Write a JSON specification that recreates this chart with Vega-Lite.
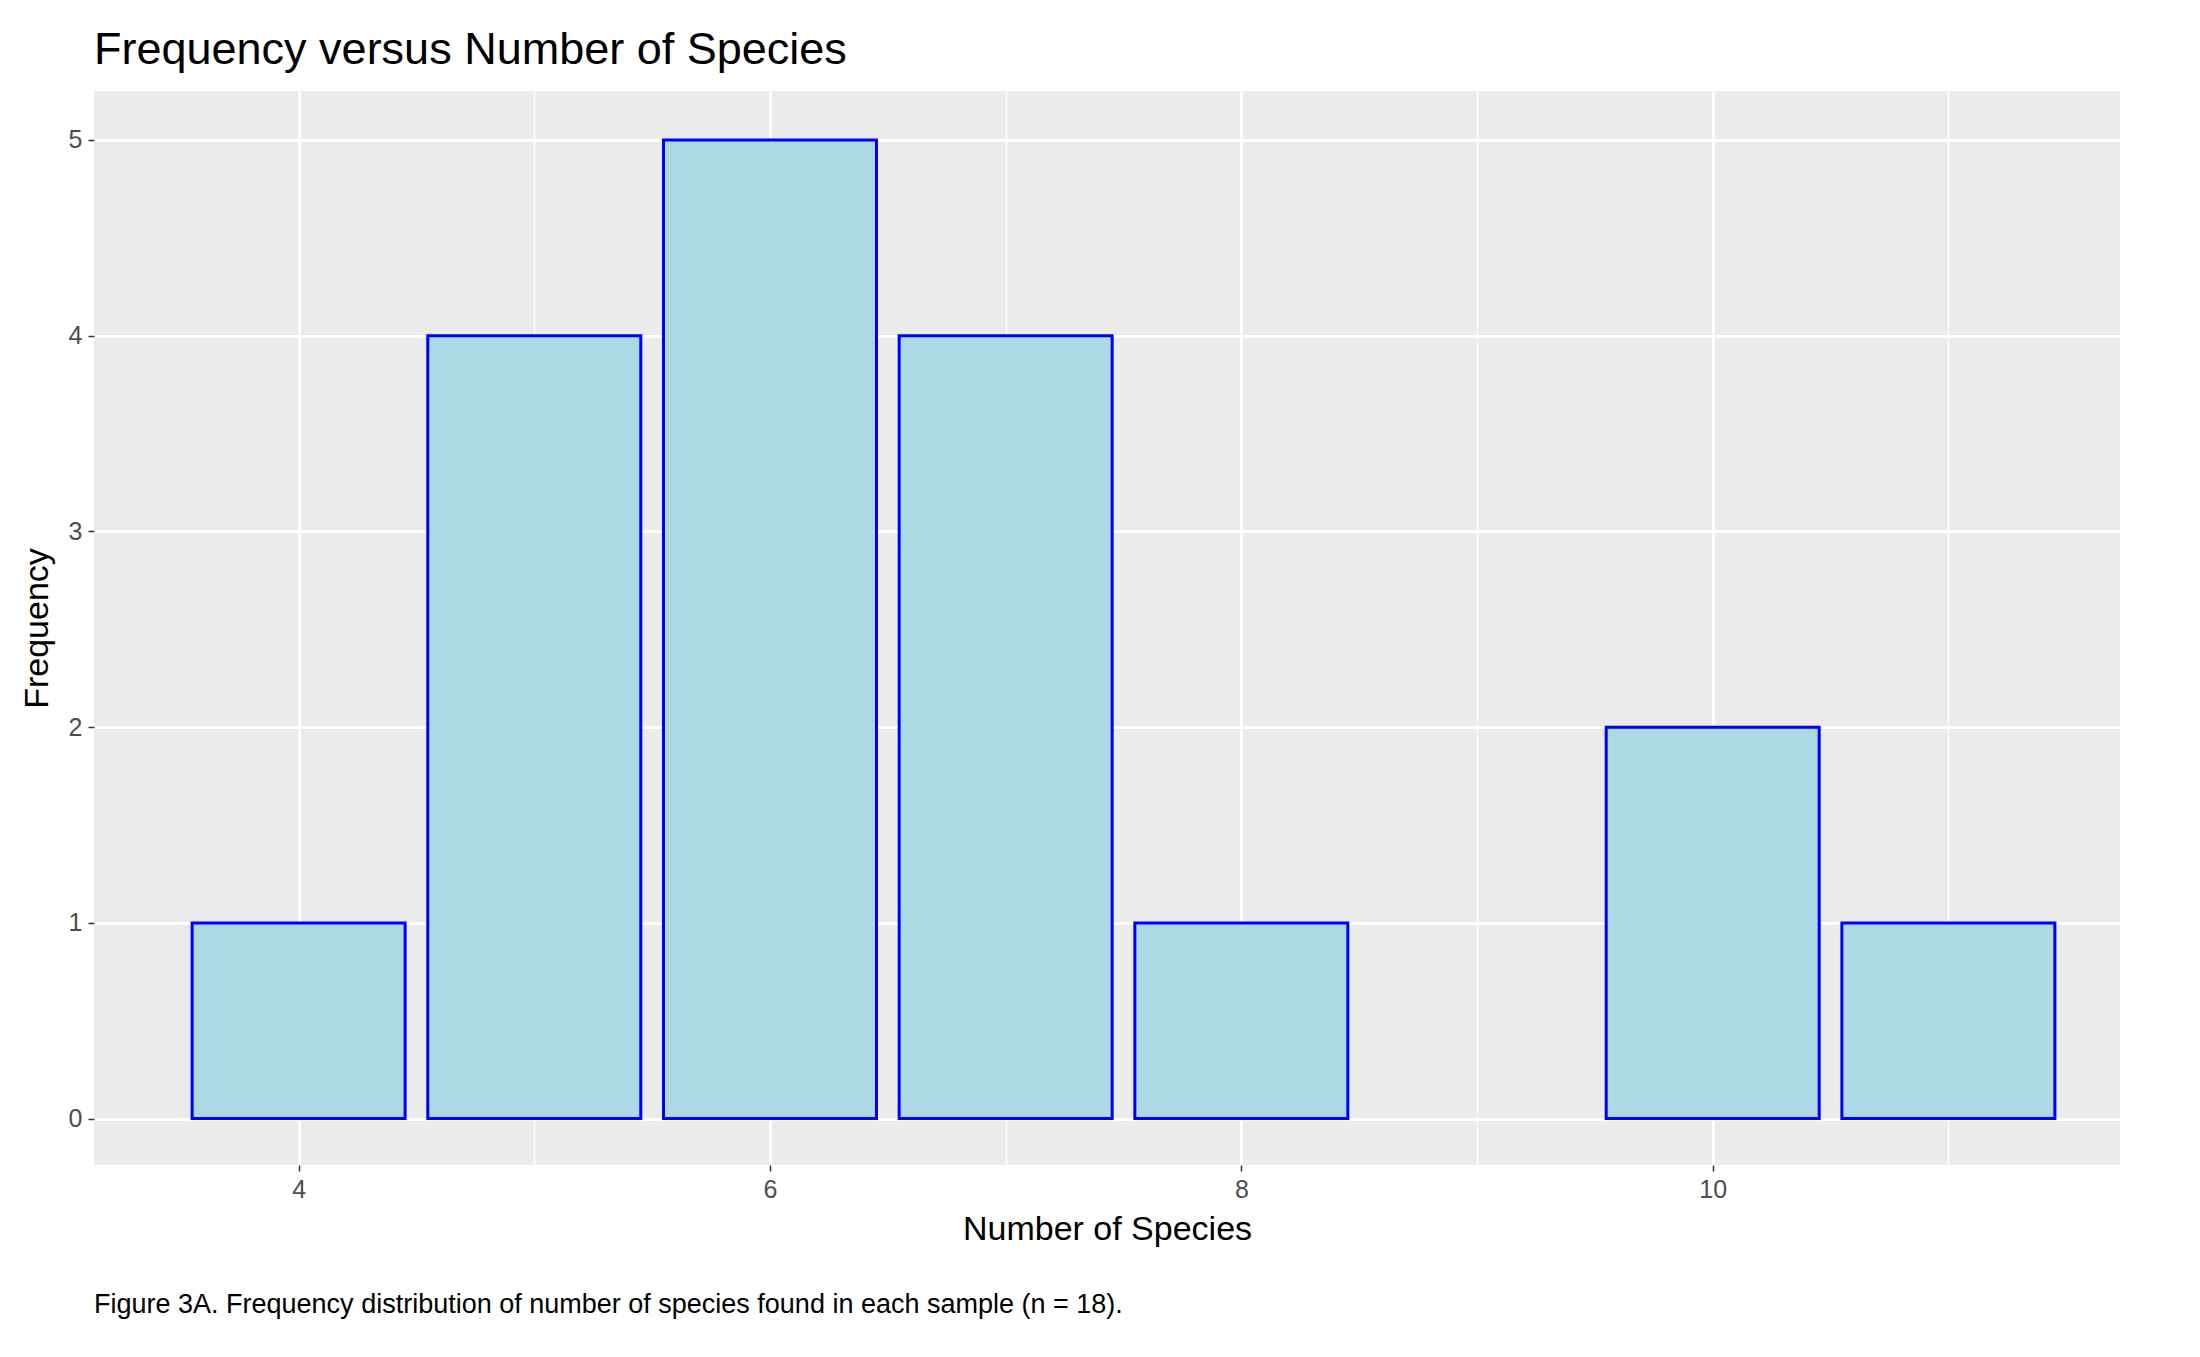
{
  "$schema": "https://vega.github.io/schema/vega-lite/v6.json",
  "background": "white",
  "padding": {"left": 20, "top": 28, "right": 20, "bottom": 5},
  "spacing": 44,
  "config": {"font": "Liberation Sans", "view": {"stroke": null}},
  "vconcat": [
    {
      "width": 2026,
      "height": 1074,
      "title": {"text": "Frequency versus Number of Species", "anchor": "start", "frame": "group", "fontSize": 45, "fontWeight": "normal", "color": "black", "offset": 18},
      "view": {"fill": "#EBEBEB", "stroke": null},
      "data": {"values": [
        {"species": 4, "freq": 1},
        {"species": 5, "freq": 4},
        {"species": 6, "freq": 5},
        {"species": 7, "freq": 4},
        {"species": 8, "freq": 1},
        {"species": 10, "freq": 2},
        {"species": 11, "freq": 1}
      ]},
      "mark": {"type": "bar", "size": 213, "fill": "#ADD8E6", "stroke": "blue", "strokeWidth": 3, "orient": "vertical"},
      "encoding": {
        "x": {"field": "species", "type": "quantitative",
          "scale": {"domain": [3.153, 11.707], "nice": false, "zero": false},
          "axis": {"values": [3, 4, 5, 6, 7, 8, 9, 10, 11], "format": "d",
            "labelExpr": "datum.value % 2 === 0 ? datum.label : ''",
            "title": "Number of Species", "titleFontSize": 34, "titleFontWeight": "normal", "titleColor": "black", "titlePadding": 10,
            "labelFontSize": 25, "labelColor": "#4D4D4D", "labelPadding": 6,
            "domain": false, "tickColor": "#333333", "tickSize": 6, "tickWidth": 1.5,
            "tickOpacity": {"condition": {"test": "datum.value % 2 === 0", "value": 1}, "value": 0},
            "gridColor": "white",
            "gridWidth": {"condition": {"test": "datum.value % 2 === 0", "value": 3}, "value": 1.5}}},
        "y": {"field": "freq", "type": "quantitative",
          "scale": {"domain": [-0.237, 5.25], "nice": false, "zero": false},
          "axis": {"values": [0, 0.5, 1, 1.5, 2, 2.5, 3, 3.5, 4, 4.5, 5], "format": "d",
            "labelExpr": "datum.value % 1 === 0 ? datum.label : ''",
            "title": "Frequency", "titleFontSize": 34, "titleFontWeight": "normal", "titleColor": "black", "titlePadding": 14,
            "labelFontSize": 25, "labelColor": "#4D4D4D", "labelPadding": 6,
            "domain": false, "tickColor": "#333333", "tickSize": 6, "tickWidth": 1.5,
            "tickOpacity": {"condition": {"test": "datum.value % 1 === 0", "value": 1}, "value": 0},
            "gridColor": "white",
            "gridWidth": {"condition": {"test": "datum.value % 1 === 0", "value": 3}, "value": 1.5}}},
        "y2": {"datum": 0}
      }
    },
    {
      "width": 2026,
      "height": 1,
      "title": {"text": "Figure 3A. Frequency distribution of number of species found in each sample (n = 18).", "anchor": "start", "frame": "group", "fontSize": 27, "fontWeight": "normal", "color": "black", "offset": 0},
      "data": {"values": [{"t": ""}]},
      "mark": {"type": "text"},
      "encoding": {"text": {"field": "t"}}
    }
  ]
}
